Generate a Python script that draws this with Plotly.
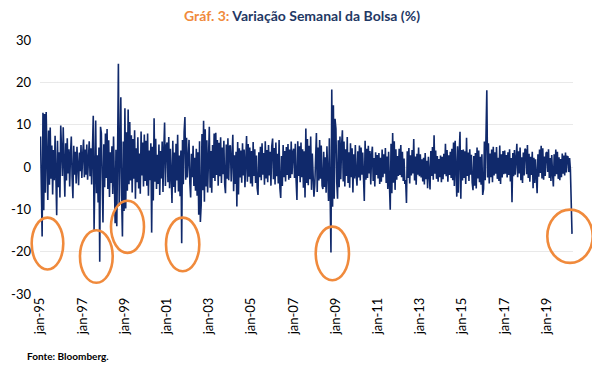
import pandas as pd
import plotly.graph_objects as go

v1995 = [7.2, -3.5, -16.4, 12.8, -10.2, 12.5, -6.1, 13.0, 2.4, -7.8, 8.6, -4.2, 9.3, -2.8, 5.1, -6.5, 4.0, -3.1, 7.4, -5.0, -11.4, 6.2, -4.8, 3.5, -7.2, 9.8]
v1996 = [4.5, -2.1, 9.4, 1.3, -7.0, 5.6, -3.2, 6.8, -1.5, 4.2, -4.6, 3.1, 7.2, -2.4, -7.4, 5.0, -1.8, 3.6, -3.9, 4.8, -2.2, -4.3, 3.4, -1.0, 5.2, -2.6]
v1997 = [3.2, 6.5, -2.4, 4.1, -1.8, 5.3, -3.0, 2.6, 6.1, -2.2, 4.4, -4.1, 3.8, 12.1, -15.0, 5.5, 11.0, -6.2, 2.8, -8.4, 4.6, -22.4, 9.5, 8.0, -6.0, -13.1]
v1998 = [5.4, -4.8, 7.9, -2.6, 9.0, -5.2, 6.3, -7.1, 3.5, -3.8, 4.9, -6.4, 7.2, -9.5, -13.3, 4.1, -14.0, 3.0, 24.4, -9.2, 5.3, 16.5, -6.8, -16.4, 6.0, -10.4]
v1999 = [13.9, -9.8, 8.2, -5.6, 13.6, -4.1, 10.6, -3.2, 7.5, -6.0, 6.6, -2.8, 8.7, -7.5, 4.4, -3.6, 7.0, -5.1, 3.2, -6.3, 8.4, -2.0, 5.8, -4.6, 7.7, -3.3]
v2000 = [6.2, -4.4, 7.9, -6.8, 3.9, -3.1, 5.6, -15.5, 4.8, -7.9, 11.5, -3.5, 6.7, -5.2, 2.9, -4.0, 5.3, -6.6, 3.8, -2.7, 6.0, -5.9, 4.1, 10.5, -4.5, 5.0]
v2001 = [5.8, -3.6, 7.1, -5.0, 4.3, -2.9, -8.5, 6.2, -4.7, 3.4, -6.1, 5.5, -3.2, 7.6, -5.8, 2.7, -6.9, 3.9, -18.0, 6.4, -4.1, 8.3, 11.8, -3.0, 6.9, -2.5]
v2002 = [4.0, 6.4, -3.7, -7.2, 3.1, -2.4, 5.0, -4.5, 2.2, -5.6, 4.3, -6.8, 3.5, -11.3, 6.1, -13.0, -9.0, 7.8, -5.5, 10.9, -8.2, 8.9, -4.6, 6.3, -6.0, 4.7]
v2003 = [9.5, -4.9, 3.8, -6.1, 5.2, -2.6, 7.9, -3.3, 8.1, -1.9, 6.4, -4.4, 5.7, -2.2, 7.0, -3.8, 4.6, -1.7, 6.2, -4.1, -6.2, 5.3, -2.8, 6.8, -3.1, 4.9]
v2004 = [5.1, -3.4, 4.0, 7.6, -5.7, 2.8, -4.0, 3.6, -9.3, 5.9, -6.5, 4.4, -2.5, 3.9, -3.7, 5.6, -2.0, 4.1, -4.8, 3.0, 7.3, -3.5, 5.4, -2.3, 4.6, -3.9]
v2005 = [3.8, -4.6, 5.9, -2.1, 4.2, -3.8, 2.7, -5.0, -6.6, 3.5, -2.4, 4.8, -3.1, 5.6, -1.8, 3.3, -4.2, 6.1, -2.7, 4.0, -3.6, 5.2, -2.0, 3.6, -4.4, 4.9]
v2006 = [6.7, -2.9, 4.5, -4.1, 5.8, -2.2, 3.1, -3.9, 6.4, -5.0, -7.3, 2.6, -4.5, 5.2, -2.4, 3.8, -3.4, 4.7, -1.9, 5.4, -3.0, 4.1, -2.6, 6.0, -1.7, 3.5]
v2007 = [4.3, -2.6, 5.5, -3.3, -7.8, 6.1, -2.1, 4.9, -3.6, 5.8, -2.4, 4.2, -4.9, 3.7, -7.2, 9.1, -3.8, 6.6, -4.3, 5.0, -2.9, 7.2, -5.4, 3.2, -4.0, -7.0]
v2008 = [-4.2, 3.1, 8.0, -5.9, 4.6, -3.2, 6.4, -2.8, 5.1, -4.4, -5.2, 3.6, -4.7, 2.3, -6.1, 4.9, -5.6, -8.0, 6.8, -13.1, -20.2, 18.3, -9.4, 14.6, -7.5, 11.4]
v2009 = [9.0, -3.6, -7.5, 6.3, -4.8, 7.2, -2.9, 5.1, 8.7, -3.4, 6.0, -4.6, 4.2, -2.1, 7.1, -3.8, 3.5, -4.9, 5.6, -2.4, 4.4, -6.0, 3.0, -2.7, 5.2, -1.9]
v2010 = [-4.4, 3.7, -2.5, 5.1, -3.2, 4.6, -1.8, 3.4, -5.6, -8.0, 6.2, -3.0, 4.3, -2.6, 5.0, -1.5, 3.8, -4.1, 2.9, 4.8, -3.3, 2.1, -4.6, 3.5, -1.9, 2.8]
v2011 = [-2.7, 3.3, -4.0, 2.2, -3.5, 4.1, -2.4, 3.0, -1.6, 4.5, -3.8, 2.5, -5.2, 3.6, -4.1, -10.1, 5.5, -6.2, 8.0, -3.7, 6.1, -5.4, 4.2, -3.0, 2.6, -2.1]
v2012 = [4.3, -1.9, 5.2, -2.4, 3.6, -3.3, 2.0, -4.0, -3.1, -8.5, 3.7, -2.6, 4.5, -3.9, 2.8, -2.0, 4.0, -1.5, 6.6, -3.2, 2.5, -4.2, 3.1, -1.8, 4.6, -2.2]
v2013 = [3.0, -2.5, 1.8, -3.4, 2.2, -4.1, 3.3, -2.9, 1.5, -5.0, 2.4, -4.4, -5.3, 3.8, -2.1, 4.7, -3.0, 7.5, -1.6, 3.9, -2.8, 2.6, -3.5, 1.9, -2.4, 2.7]
v2014 = [-3.6, 2.4, -2.9, 3.1, -1.7, 5.5, -2.2, 4.0, -3.5, 2.8, -1.9, 3.6, -2.6, 4.3, -3.1, 5.8, -4.5, 6.2, -5.4, -7.0, 4.9, -6.1, 3.3, 8.3, -7.5, 4.0]
v2015 = [-3.2, 4.1, -2.6, 3.7, -4.0, 6.9, -2.1, 3.4, -3.3, 4.2, -1.8, 2.9, -3.7, -5.5, 2.6, -4.4, 3.3, -5.1, 4.6, -2.7, 3.9, -3.6, 2.4, -4.2, 3.0, -6.6]
v2016 = [-5.2, 6.0, -3.1, 4.4, 18.1, -2.5, 5.6, -3.9, 3.2, -2.4, 4.1, -3.6, 4.8, -2.0, 3.5, -1.6, 4.7, -2.8, 2.2, -3.3, 5.1, -4.0, 3.0, -2.5, 3.8, -1.7]
v2017 = [3.9, -1.6, 2.8, -2.5, 3.5, -1.9, 4.2, -3.4, 2.1, -8.3, 3.3, -2.2, 4.0, -1.8, 2.6, 5.5, -2.4, 3.7, -1.5, 4.6, -3.1, 2.3, -3.8, 3.4, -2.0, 4.3]
v2018 = [4.0, -1.7, 5.2, -2.6, 3.1, -3.5, 2.4, -1.9, 3.6, -5.0, 2.2, -3.8, 1.8, -4.2, -6.2, 3.0, -2.3, 4.1, -1.4, 5.0, -2.7, 4.4, -3.0, 2.5, -2.1, 3.3]
v2019 = [3.5, -1.2, 4.2, -2.6, 2.1, -3.3, 2.8, -1.5, -4.6, 3.0, -2.2, 4.1, -1.7, 3.6, -2.8, 2.3, -3.1, 1.9, -2.4, 3.2, -1.6, 2.7, -2.0, 3.4, -1.3, 2.5]
v2020 = [2.4, -1.2, 2.1, -0.6, -6.2, -15.8]

years = list(range(1995, 2021))
yearly_values = [v1995, v1996, v1997, v1998, v1999, v2000, v2001, v2002, v2003,
                 v2004, v2005, v2006, v2007, v2008, v2009, v2010, v2011, v2012,
                 v2013, v2014, v2015, v2016, v2017, v2018, v2019, v2020]

tick_years = list(range(1995, 2020, 2))
tick_labels = ["jan-95", "jan-97", "jan-99", "jan-01", "jan-03", "jan-05", "jan-07",
               "jan-09", "jan-11", "jan-13", "jan-15", "jan-17", "jan-19"]

y_ticks = [30, 20, 10, 0, -10, -20, -30]
y_tick_labels = ["30", "20", "10", "0", "-10", "-20", "-30"]

dates, values = [], []
for yr, vals in zip(years, yearly_values):
    d = pd.date_range(start=f"{yr}-01-06", periods=len(vals), freq="14D")
    dates.extend(d)
    values.extend(vals)

NAVY = "#10296B"
ORANGE = "#F08A3C"
FONT = "Lato"

fig = go.Figure()
fig.add_trace(go.Scatter(x=dates, y=values, mode="lines",
                         line=dict(color=NAVY, width=1.6), hoverinfo="skip"))

# highlight ellipses (paper coordinates)
ellipses = [
    (-0.0156, 0.0437, 0.0963, 0.3006),
    (0.0750, 0.1364, 0.0440, 0.2507),
    (0.1332, 0.1951, 0.1619, 0.3674),
    (0.2364, 0.2989, 0.0896, 0.3006),
    (0.5173, 0.5797, 0.0542, 0.2652),
    (0.9518, 1.0370, 0.1226, 0.3320),
]
for x0, x1, y0, y1 in ellipses:
    fig.add_shape(type="circle", xref="paper", yref="paper",
                  x0=x0, x1=x1, y0=y0, y1=y1,
                  line=dict(color=ORANGE, width=2.6), layer="above")

fig.update_layout(
    width=600, height=373,
    margin=dict(l=32, r=35, t=32, b=86.5, autoexpand=False),
    paper_bgcolor="white", plot_bgcolor="white",
    showlegend=False,
    font=dict(family=FONT, color="black"),
    title=dict(
        text=f"<b><span style='color:{ORANGE}'>Gráf. 3:</span> "
             f"<span style='color:#1F3864'>Variação Semanal da Bolsa (%)</span></b>",
        x=0.49, xanchor="center", y=1 - 8 / 373, yanchor="middle",
        font=dict(family=FONT, size=14),
    ),
    xaxis=dict(
        type="date",
        range=["1994-12-28", "2020-04-02"],
        tickvals=[f"{y}-01-01" for y in tick_years],
        ticktext=tick_labels,
        tickangle=-90,
        tickfont=dict(family=FONT, size=13, color="black"),
        showgrid=False, zeroline=False, showline=False, ticks="",
        automargin=False,
    ),
    yaxis=dict(
        range=[-30, 30],
        tickvals=y_ticks,
        ticktext=y_tick_labels,
        tickfont=dict(family=FONT, size=13, color="black"),
        showgrid=True, gridcolor="#E9E9E9", gridwidth=1,
        zeroline=False, showline=False, ticks="",
        ticklabelstandoff=8,
        automargin=False,
    ),
)

fig.add_annotation(text="<b>Fonte: Bloomberg.</b>", xref="paper", yref="paper",
                   x=(25 - 40) / 533, y=(294.5 - 357) / 254.5,
                   xanchor="left", yanchor="middle", showarrow=False,
                   font=dict(family=FONT, size=10, color="black"))

fig.write_html("out.html")
